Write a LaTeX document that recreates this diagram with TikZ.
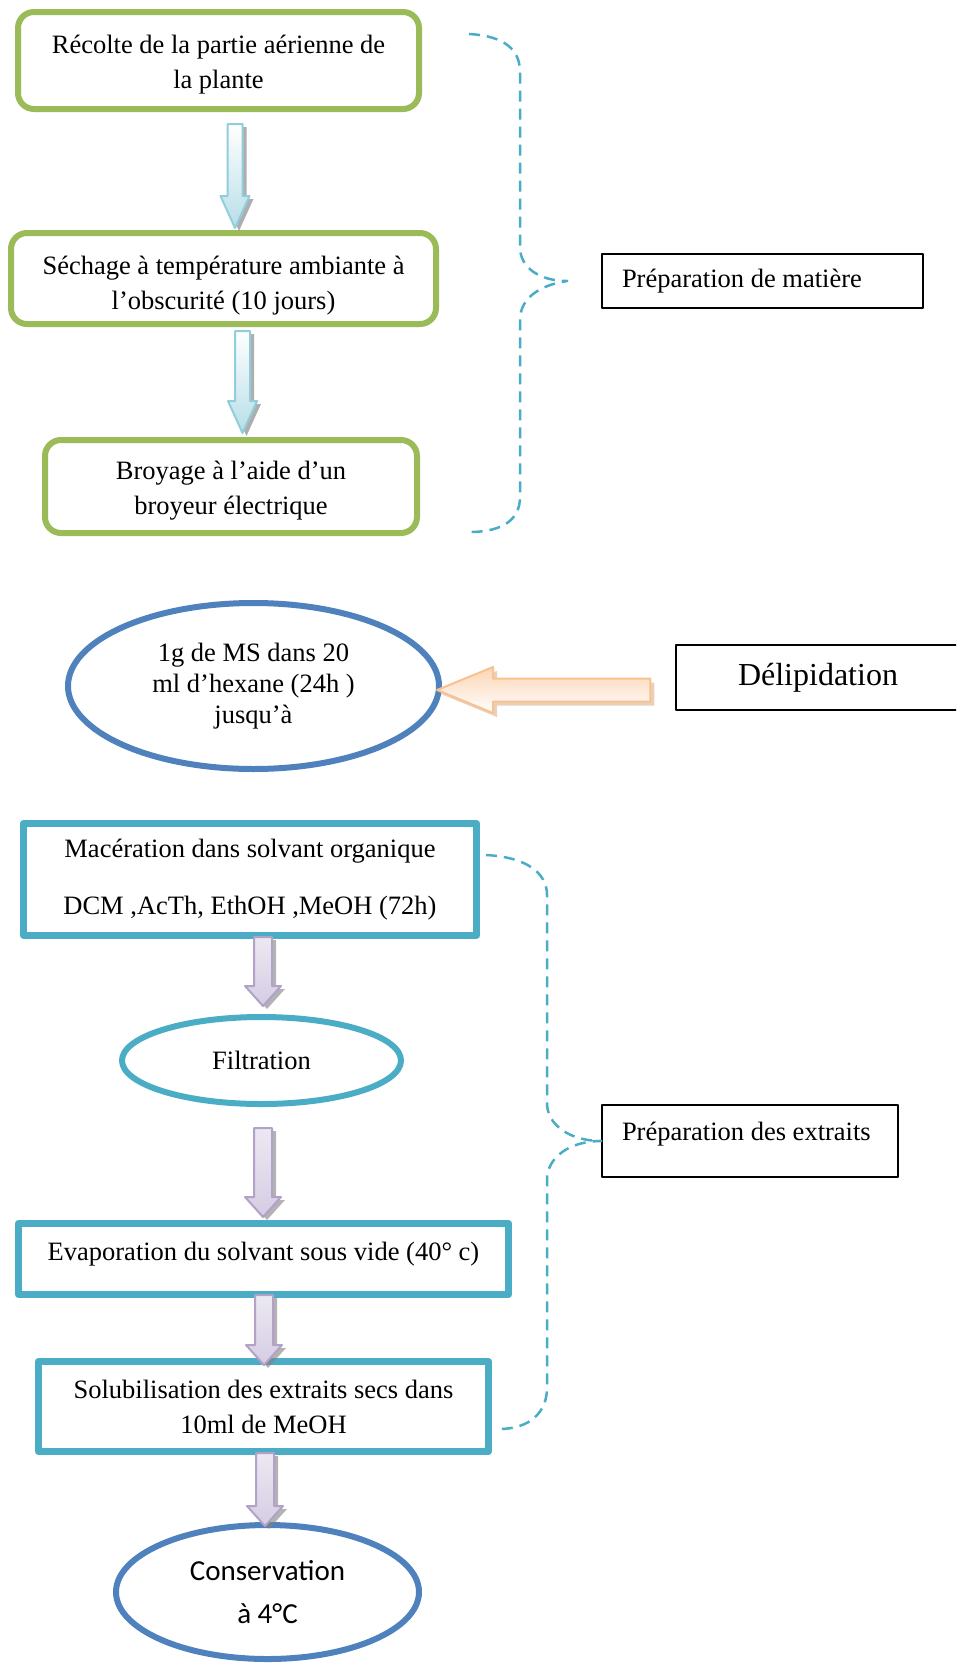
\documentclass[tikz,border=0pt]{standalone}
\usepackage{fontspec}
\setmainfont{Liberation Serif}
\newfontfamily\calibrifont{Carlito}
\usetikzlibrary{calc,shapes.geometric,shadows}

\definecolor{leafgreen}{HTML}{9BBB59}
\definecolor{inkblue}{HTML}{4F81BD}
\definecolor{aqua}{HTML}{4BACC6}
\definecolor{skyline}{HTML}{92CDDC}
\definecolor{skyfill}{HTML}{B7DEE8}
\definecolor{lilacline}{HTML}{B3A2C7}
\definecolor{lilacfill}{HTML}{D5CCE3}
\definecolor{peachline}{HTML}{FAC08F}
\definecolor{peachfill}{HTML}{FCD5B4}

\tikzset{
  txt/.style={font=\fontsize{26.5}{35}\selectfont, align=center, inner sep=0pt},
  greenbox/.style={txt, draw=leafgreen, line width=6pt, rounded corners=16pt, text height=61pt},
  tealbox/.style={txt, draw=aqua, line width=7pt},
  blueoval/.style={txt, ellipse, draw=inkblue, line width=6pt},
  tealoval/.style={txt, ellipse, draw=aqua, line width=6pt},
  tagbox/.style={txt, draw=black, line width=1.5pt},
  brace/.style={aqua, line width=2.5pt, dash pattern=on 11pt off 7pt},
  % block arrows, from the tail (start) to the tip (target)
  skyarrow/.style={draw=skyline, line width=2pt, top color=white, bottom color=skyfill,
    drop shadow={shadow xshift=4pt, shadow yshift=-3pt, fill=black!45, opacity=.7},
    to path={let \p1=(\tikztostart), \p2=(\tikztotarget) in
      (\x1-7.5pt,\y1) -- (\x1+7.5pt,\y1) -- (\x1+7.5pt,\y2+32pt) -- (\x1+14.5pt,\y2+32pt)
      -- (\x1,\y2) -- (\x1-14.5pt,\y2+32pt) -- (\x1-7.5pt,\y2+32pt) -- cycle}},
  lilacarrow/.style={draw=lilacline, line width=2pt, top color=lilacfill!45, bottom color=lilacfill,
    drop shadow={shadow xshift=4pt, shadow yshift=-3pt, fill=black!50, opacity=.6},
    to path={let \p1=(\tikztostart), \p2=(\tikztotarget) in
      (\x1-9pt,\y1) -- (\x1+9pt,\y1) -- (\x1+9pt,\y2+20pt) -- (\x1+18pt,\y2+20pt)
      -- (\x1,\y2) -- (\x1-18pt,\y2+20pt) -- (\x1-9pt,\y2+20pt) -- cycle}},
  peacharrow/.style={draw=peachline, line width=2pt, top color=peachfill, bottom color=white,
    drop shadow={shadow xshift=4pt, shadow yshift=-4pt, fill=brown!60, opacity=.6},
    to path={let \p1=(\tikztostart), \p2=(\tikztotarget) in
      (\x1,\y1+11.5pt) -- (\x2+56pt,\y1+11.5pt) -- (\x2+56pt,\y1+23pt) -- (\x2,\y1)
      -- (\x2+56pt,\y1-23pt) -- (\x2+56pt,\y1-11.5pt) -- (\x1,\y1-11.5pt) -- cycle}}
}

\begin{document}
\begin{tikzpicture}[x=1pt, y=-1pt, line join=round]
  \useasboundingbox (0,0) rectangle (956,1665);
  \clip (0,0) rectangle (956,1665);

  % preparation of the plant material
  \node[greenbox, minimum width=401pt, minimum height=97pt] (harvest) at (218.5,60.5)
    {Récolte de la partie aérienne de\\la plante};
  \node[greenbox, text height=67pt, minimum width=425pt, minimum height=91pt] (drying) at (223.5,278.5)
    {Séchage à température ambiante à\\l’obscurité (10 jours)};
  \node[greenbox, minimum width=372pt, minimum height=93pt] (grinding) at (231,486.5)
    {Broyage à l’aide d’un\\broyeur électrique};
  \node[tagbox, text width=281pt, inner xsep=20pt, align=flush left, minimum height=54pt] (prepmat) at (762.5,281)
    {Préparation de matière};

  % delipidation
  \node[blueoval, font=\fontsize{26.5}{31}\selectfont, minimum width=371pt, minimum height=166pt] (hexane) at (253.5,686)
    {1g de MS dans 20\\ml d’hexane (24h )\\jusqu’à};
  \node[tagbox, font=\fontsize{32}{38}\selectfont, minimum width=284pt, minimum height=65pt] (delip) at (818,677.5)
    {Délipidation};

  % extraction
  \node[tealbox, minimum width=453pt, minimum height=112pt] (macer) at (250,879.5)
    {Macération dans solvant organique\\[22pt]DCM ,AcTh, EthOH ,MeOH (72h)};
  \node[tealoval, minimum width=279pt, minimum height=87pt] (filtr) at (261.5,1060.5) {Filtration};
  \node[tealbox, text depth=16pt, minimum width=490pt, minimum height=71pt] (evap) at (263.5,1259)
    {Evaporation du solvant sous vide (40° c)};
  \node[tealbox, minimum width=450pt, minimum height=90pt] (solub) at (263.5,1406.5)
    {Solubilisation des extraits secs dans\\10ml de MeOH};
  \node[blueoval, font=\calibrifont\fontsize{29}{43}\selectfont, minimum width=303pt, minimum height=134pt] (keep) at (267.5,1592)
    {Conservation\\à 4°C};
  \node[tagbox, text width=256pt, inner xsep=20pt, align=flush left, text depth=20pt, minimum height=72pt] (prepext) at (750,1141)
    {Préparation des extraits};

  % block arrows
  \draw[skyarrow] ([xshift=16.5pt,yshift=-12pt]harvest.south) to ([yshift=2pt]drying.north);
  \draw[skyarrow] ([xshift=19pt,yshift=-4pt]drying.south) to ([yshift=4pt]grinding.north);
  \coordinate (dtail) at ([xshift=-25pt,yshift=-12.5pt]delip.west);
  \draw[peacharrow] (dtail) to ([xshift=-5pt]hexane.east);
  \draw[lilacarrow] ([xshift=13pt,yshift=2pt]macer.south) to ([yshift=8pt]filtr.north);
  \draw[lilacarrow] ([xshift=1.5pt,yshift=-21pt]filtr.south) to ([yshift=3pt]evap.north);
  \draw[lilacarrow] ([xshift=0.5pt,yshift=3pt]evap.south) to ([yshift=-7pt]solub.north);
  \draw[lilacarrow] ([xshift=1.5pt,yshift=2pt]solub.south) to ([yshift=-4pt]keep.north);

  % dashed braces
  \coordinate (tip1) at ([xshift=-34pt]prepmat.west);
  \draw[brace] (469,34) .. controls (505,36) and (520,50) .. (520,72) -- (520,247)
    .. controls (520,268) and (540,281) .. (tip1)
    .. controls (540,285) and (520,298) .. (520,320) -- (520,497)
    .. controls (520,518) and (505,532) .. (469,532);
  \coordinate (tip2) at (prepext.west);
  \draw[brace] (486,855) .. controls (525,857) and (547,872) .. (547,895) -- (547,1103)
    .. controls (547,1125) and (570,1141) .. (tip2)
    .. controls (570,1141) and (547,1157) .. (547,1180) -- (547,1388)
    .. controls (547,1412) and (530,1429) .. (499,1429);
\end{tikzpicture}
\end{document}
